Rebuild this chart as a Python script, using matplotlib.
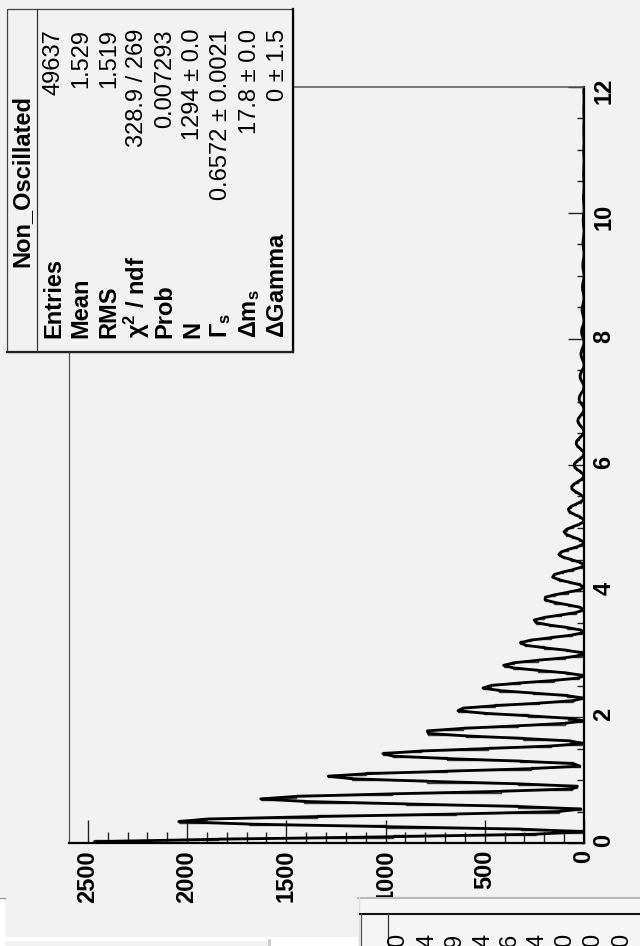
import numpy as np
import matplotlib
matplotlib.use("Agg")
import matplotlib.pyplot as plt
from matplotlib.ticker import MultipleLocator
from matplotlib.patches import Rectangle

plt.rcParams['font.family'] = ['Liberation Sans', 'DejaVu Sans']
plt.rcParams['mathtext.fontset'] = 'custom'
plt.rcParams['mathtext.rm'] = 'Liberation Sans'
plt.rcParams['mathtext.it'] = 'Liberation Sans'
plt.rcParams['mathtext.bf'] = 'Liberation Sans:bold'
plt.rcParams['mathtext.default'] = 'regular'

# ---------------- data ----------------
time_lo, time_hi = 0.0, 12.0
counts = [
    2465, 1843, 960, 241, 2, 319, 999, 1687, 2042, 1902,
    1344, 643, 125, 16, 334, 896, 1412, 1629, 1450, 969,
    420, 58, 34, 335, 792, 1171, 1289, 1096, 690, 268,
    22, 53, 325, 690, 963, 1013, 821, 484, 164, 5,
    69, 308, 594, 785, 789, 609, 335, 96, 0, 80,
    284, 506, 635, 610, 448, 227, 53, 1, 87, 258,
    426, 509, 468, 325, 151, 27, 6, 90, 230, 356,
    405, 355, 234, 98, 12, 11, 89, 203, 295, 320,
    268, 166, 62, 4, 15, 85, 176, 242, 251, 200,
    116, 38, 1, 19, 80, 151, 196, 195, 148, 80,
    22, 0, 22, 74, 128, 158, 150, 108, 54, 12,
    1, 23, 67, 108, 127, 115, 79, 36, 6, 2,
    24, 59, 90, 101, 87, 56, 23, 2, 3, 23,
    52, 74, 79, 66, 40, 14, 1, 5, 22, 45,
    61, 62, 49, 28, 9, 0, 5, 21, 38, 49,
    48, 36, 19, 5, 0, 6, 19, 33, 40, 37,
    26, 13, 3, 0, 6, 17, 27, 32, 28, 19,
    8, 1, 1, 6, 15, 23, 25, 21, 14, 5,
    1, 1, 6, 13, 19, 20, 16, 10, 3, 0,
    1, 6, 11, 15, 15, 12, 7, 2, 0, 2,
    5, 10, 12, 12, 9, 4, 1, 0, 2, 5,
    8, 10, 9, 6, 3, 1, 0, 2, 4, 7,
    8, 7, 5, 2, 0, 0, 2, 4, 6, 6,
    5, 3, 1, 0, 0, 2, 3, 5, 5, 4,
    2, 1, 0, 0, 2, 3, 4, 4, 3, 2,
    0, 0, 0, 1, 2, 3, 3, 2, 1, 0,
    0, 0, 1, 1, 2, 2, 2, 1, 1, 0,
    0, 0, 1, 1, 2, 1, 1, 0, 0, 0,
    1, 1, 1, 1, 1, 0, 0, 0, 0, 1,
    1, 1, 1, 0, 0, 0, 0, 1, 1, 0,
]
count_max = 2595

stats_title = "Non_Oscillated"
stats_labels = ["Entries", "Mean", "RMS", r"$\chi^{2}$ / ndf", "Prob", "N",
                r"$\Gamma_{s}$", r"$\Delta m_{s}$", r"$\Delta$Gamma"]
stats_values = ["49637", "1.529", "1.519", "328.9 / 269", "0.007293",
                "1294 \u00b1 0.0", "0.6572 \u00b1 0.0021", "17.8 \u00b1 0.0", "0 \u00b1 1.5"]
second_box_digits = ["0", "4", "9", "4", "6", "4", "0", "0", "0"]

# ---------------- figure ----------------
W, H = 640, 946
BG = '#f2f2f2'
fig = plt.figure(figsize=(W / 100, H / 100), dpi=100, facecolor=BG)

# main axes (pixel frame: x 69..584, y 87..843 from top)
L, R, T, B = 69, 584, 87, 843
ax = fig.add_axes([L / W, 1 - B / H, (R - L) / W, (B - T) / H])
ax.set_facecolor(BG)

counts_arr = np.asarray(counts, dtype=float)
edges = np.linspace(time_lo, time_hi, len(counts_arr) + 1)
centers = 0.5 * (edges[:-1] + edges[1:])

ax.stairs(counts_arr, edges, orientation='horizontal', color='#3a3a3a', lw=1.0, baseline=None)
ax.plot(counts_arr, centers, color='black', lw=2.0, solid_joinstyle='round')

ax.set_xlim(count_max, 0)
ax.set_ylim(time_lo, time_hi)

ax.xaxis.set_major_locator(MultipleLocator(500))
ax.xaxis.set_minor_locator(MultipleLocator(100))
ax.yaxis.set_major_locator(MultipleLocator(2))
ax.yaxis.set_minor_locator(MultipleLocator(0.5))
ax.yaxis.tick_right()

ax.tick_params(axis='x', which='major', direction='in', length=16.5, width=1.0,
               pad=5, labelsize=17, labelrotation=90, color='#222')
ax.tick_params(axis='x', which='minor', direction='in', length=8, width=1.0, color='#222')
ax.tick_params(axis='y', which='major', direction='in', length=11.5, width=1.0,
               pad=6, labelsize=17, labelrotation=90, left=False, right=True, color='#222')
ax.tick_params(axis='y', which='minor', direction='in', length=5, width=1.0,
               left=False, right=True, color='#222')
for lab in ax.get_xticklabels() + ax.get_yticklabels():
    lab.set_fontweight('bold')

ax.spines['left'].set(color='#555555', lw=0.9)
ax.spines['top'].set(color='#555555', lw=1.1)
ax.spines['right'].set(color='black', lw=1.6)
ax.spines['bottom'].set(color='black', lw=1.6)

# ---------------- overlay in pixel coordinates ----------------
ov = fig.add_axes([0, 0, 1, 1], zorder=10)
ov.set_xlim(0, W)
ov.set_ylim(H, 0)
ov.axis('off')
ov.patch.set_alpha(0)

# stats box
bx0, by0, bx1, by1 = 7, 9, 293, 352
ov.add_patch(Rectangle((bx0, by0), bx1 - bx0, by1 - by0, facecolor=BG,
                       edgecolor='#444444', lw=0.9))
ov.plot([bx1, bx1], [by0, by1], color='black', lw=1.6)
ov.plot([bx0, bx1], [by1, by1], color='#222222', lw=1.6)
ov.plot([37, 37], [by0, by1], color='#333333', lw=0.9)

ov.text(22, 181, stats_title, rotation=90, rotation_mode='anchor',
        ha='center', va='center', fontsize=17, fontweight='bold')
row_x = [54, 81, 109, 137, 165, 193, 221, 250, 278]
for x, lab, val in zip(row_x, stats_labels, stats_values):
    ov.text(x, 338, lab, rotation=90, rotation_mode='anchor', ha='left',
            va='center', fontsize=17, fontweight='bold')
    ov.text(x, 29, val, rotation=90, rotation_mode='anchor', ha='right',
            va='center', fontsize=17)

# bottom-left white pieces of the screenshot
ov.add_patch(Rectangle((0, 897), 5, 50, facecolor='white', edgecolor='none'))
ov.plot([0, 5], [897.5, 897.5], color='#999999', lw=1.0)
ov.add_patch(Rectangle((5, 937), 353, 4, facecolor='white', edgecolor='none'))
ov.add_patch(Rectangle((271, 937), 87, 10, facecolor='white', edgecolor='none'))
ov.plot([269, 269], [940, 946], color='#cccccc', lw=2)

# bottom-right second panel (partially visible)
ov.add_patch(Rectangle((358, 897), 282, 50, facecolor='#f5f5f5', edgecolor='none'))
ov.plot([358, 640], [897.5, 897.5], color='#bbbbbb', lw=1.5)
ov.plot([358.5, 358.5], [897, 946], color='#dddddd', lw=1.0)
ov.plot([360, 640], [914, 914], color='#111111', lw=1.5)
ov.plot([360.5, 360.5], [914, 946], color='#555555', lw=0.9)
ov.plot([388, 388], [914, 946], color='#333333', lw=0.9)
digit_x = [398, 427, 455, 483, 510, 537, 565, 593, 622]
for x, d in zip(digit_x, second_box_digits):
    ov.text(x, 934, d, rotation=90, rotation_mode='anchor', ha='right',
            va='center', fontsize=17, clip_on=True)

fig.savefig('out.png', dpi=100, facecolor=BG)
